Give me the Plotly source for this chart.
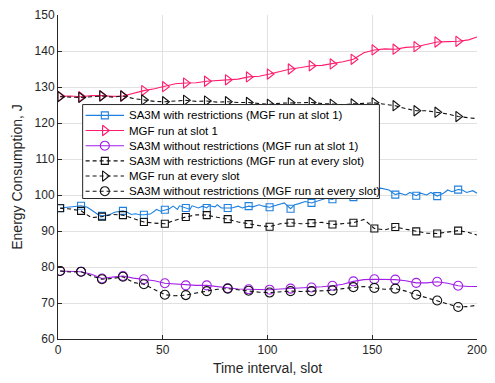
import plotly.graph_objects as go

# ---------------------------------------------------------------- data
# Energy consumption (J) per time slot for the six schemes.
wr1_slot = [1, 4, 8, 11, 14, 17, 19, 21, 24, 27, 31, 33, 35, 37, 39, 41, 44, 46, 47, 49,
            51, 53, 55, 57, 58, 61, 63, 64, 67, 69, 71, 72, 75, 76, 78, 81, 83, 86, 88, 91,
            93, 96, 98, 101, 103, 105, 108, 111, 113, 115, 118, 121, 123, 126, 128, 131, 133,
            136, 139, 141, 144, 147, 151, 154, 158, 161, 163, 166, 168, 171, 173, 176, 178,
            181, 184, 186, 188, 191, 193, 195, 198, 200]
wr1_energy = [96.4, 96.5, 96.8, 97.0, 96.6, 95.4, 94.6, 94.2, 94.4, 95.2, 95.6, 95.2, 94.6,
              94.8, 94.5, 94.5, 94.7, 95.5, 96.0, 95.5, 95.9, 96.1, 96.9, 96.0, 97.0, 96.4,
              96.0, 97.0, 96.4, 96.9, 96.4, 97.0, 96.7, 97.3, 96.4, 96.4, 96.4, 96.9, 96.4,
              96.9, 96.7, 97.3, 96.9, 96.6, 96.9, 97.3, 97.8, 96.2, 97.3, 97.6, 98.2, 97.8,
              98.2, 98.7, 99.1, 98.8, 99.6, 99.1, 99.6, 99.4, 99.9, 100.4, 100.9, 101.9,
              101.4, 100.1, 100.5, 100.0, 100.7, 99.8, 100.5, 100.0, 100.7, 99.7, 100.5,
              101.4, 100.9, 101.5, 101.4, 100.7, 101.2, 100.5]

mgf1_slot = [1, 6, 11, 16, 21, 26, 31, 36, 41, 46, 51, 56, 61, 66, 71, 76, 81, 86, 91, 96,
             101, 106, 111, 116, 121, 126, 131, 136, 141, 146, 151, 156, 161, 166, 171, 176,
             181, 186, 191, 196, 200]
mgf1_energy = [127.4, 127.5, 127.3, 127.6, 127.6, 127.4, 127.5, 128.3, 129.0, 129.5, 130.1,
               130.9, 131.1, 131.2, 131.6, 131.8, 132.0, 132.2, 132.8, 133.0, 133.6, 134.4,
               135.0, 135.4, 135.9, 136.0, 136.4, 137.0, 137.7, 139.5, 140.3, 140.6, 140.5,
               141.0, 141.2, 141.8, 142.5, 142.6, 142.7, 143.1, 143.9]

wo1_slot = mgf1_slot
wo1_energy = [78.9, 78.7, 78.7, 78.0, 76.8, 77.2, 77.5, 76.9, 76.6, 76.2, 75.5, 75.3, 74.9,
              74.9, 74.9, 74.5, 74.1, 73.9, 73.8, 73.7, 73.7, 73.9, 74.0, 74.1, 74.3, 74.5,
              74.8, 75.2, 76.0, 76.5, 76.6, 76.6, 76.5, 76.2, 75.6, 75.6, 75.9, 75.5, 74.8,
              74.6, 74.6]

wr_all_slot = mgf1_slot
wr_all_energy = [96.3, 96.1, 95.6, 93.7, 94.0, 94.6, 94.4, 93.5, 92.5, 92.2, 92.0, 93.0,
                 93.9, 94.5, 94.4, 93.8, 93.3, 92.5, 91.9, 91.5, 91.2, 92.0, 92.3, 92.0,
                 92.2, 92.4, 91.8, 92.0, 92.3, 93.2, 90.7, 90.3, 91.1, 90.5, 89.9, 89.4,
                 89.3, 89.8, 90.1, 89.6, 88.9]

mgf_all_slot = mgf1_slot
mgf_all_energy = [127.3, 127.2, 127.1, 127.3, 127.5, 127.2, 127.5, 126.8, 126.4, 126.0,
                  125.9, 126.2, 126.3, 126.0, 126.1, 125.8, 125.9, 125.7, 125.7, 125.4,
                  125.2, 125.5, 125.6, 125.8, 125.7, 125.4, 125.2, 125.1, 125.3, 125.5,
                  125.6, 125.2, 124.8, 124.0, 123.4, 123.4, 123.0, 122.5, 121.8, 121.5,
                  121.2]

wo_all_slot = mgf1_slot
wo_all_energy = [78.9, 78.6, 78.7, 77.5, 76.6, 76.8, 77.3, 75.7, 75.2, 73.8, 72.3, 72.0,
                 72.2, 72.8, 73.3, 73.8, 74.0, 73.6, 73.4, 73.0, 72.9, 73.1, 73.3, 73.2,
                 73.3, 73.4, 73.5, 74.0, 74.4, 74.6, 74.2, 73.8, 74.0, 73.3, 72.3, 71.5,
                 70.7, 69.8, 68.9, 69.0, 69.4]

# slots carrying a marker
marker_slots = list(range(1, 200, 10))

series_names = [
    "SA3M with restrictions (MGF run at slot 1)",
    "MGF run at slot 1",
    "SA3M without restrictions (MGF run at slot 1)",
    "SA3M with restrictions (MGF run at every slot)",
    "MGF run at every slot",
    "SA3M without restrictions (MGF run at every slot)",
]

x_ticks = [0, 50, 100, 150, 200]
y_ticks = [60, 70, 80, 90, 100, 110, 120, 130, 140, 150]

# ---------------------------------------------------------------- styles
BLUE, PINK, PURPLE, BLACK = "#1f80e0", "#ff1c6c", "#a21fe6", "#111111"
INK = "#262626"
FONT = "Liberation Sans, Arial, Helvetica, sans-serif"
DASH = "4px,3px"

styles = [
    dict(color=BLUE, dash="solid", symbol="square-open", size=7),
    dict(color=PINK, dash="solid", symbol="triangle-right-open", size=9),
    dict(color=PURPLE, dash="solid", symbol="circle-open", size=9),
    dict(color=BLACK, dash=DASH, symbol="square-open", size=7),
    dict(color=BLACK, dash=DASH, symbol="triangle-right-open", size=9),
    dict(color=BLACK, dash=DASH, symbol="circle-open", size=9),
]
data = [
    (wr1_slot, wr1_energy),
    (mgf1_slot, mgf1_energy),
    (wo1_slot, wo1_energy),
    (wr_all_slot, wr_all_energy),
    (mgf_all_slot, mgf_all_energy),
    (wo_all_slot, wo_all_energy),
]

fig = go.Figure()

for name, st, (xs, ys) in zip(series_names, styles, data):
    fig.add_trace(go.Scatter(
        x=xs, y=ys, mode="lines", name=name, showlegend=False,
        line=dict(color=st["color"], width=1.1, dash=st["dash"]),
        hoverinfo="skip",
    ))
    mx = [s for s in xs if s in marker_slots]
    my = [v for s, v in zip(xs, ys) if s in marker_slots]
    fig.add_trace(go.Scatter(
        x=mx, y=my, mode="markers", name=name, showlegend=False,
        marker=dict(symbol=st["symbol"], size=st["size"], color=st["color"],
                    line=dict(width=1.1, color=st["color"])),
    ))

# ---------------------------------------------------------------- legend
# Drawn on an overlay axis in plot-area fractions so the rows can be packed
# tighter than the built-in legend allows.
W, H = 495, 383
L, R, T, B = 58, 12, 8, 44
PW, PH = W - L - R, H - T - B


def fx(px):
    return (px - L) / PW


def fy(py):
    return (H - B - py) / PH


box_l, box_r, box_t, box_b = fx(83), fx(384), fy(99.5), fy(195.5)
fig.add_trace(go.Scatter(
    x=[box_l, box_r, box_r, box_l, box_l], y=[box_t, box_t, box_b, box_b, box_t],
    xaxis="x2", yaxis="y2", mode="lines", fill="toself", fillcolor="white",
    line=dict(color=INK, width=1), showlegend=False, hoverinfo="skip",
))

row_py = [110.5, 126, 141.5, 157, 172.5, 188]
for name, st, py in zip(series_names, styles, row_py):
    yy = fy(py)
    fig.add_trace(go.Scatter(
        x=[fx(86), fx(125)], y=[yy, yy], xaxis="x2", yaxis="y2", mode="lines",
        line=dict(color=st["color"], width=1.1, dash=st["dash"]),
        showlegend=False, hoverinfo="skip",
    ))
    fig.add_trace(go.Scatter(
        x=[fx(105.5)], y=[yy], xaxis="x2", yaxis="y2", mode="markers",
        marker=dict(symbol=st["symbol"], size=st["size"], color=st["color"],
                    line=dict(width=1.1, color=st["color"])),
        showlegend=False, hoverinfo="skip",
    ))
    fig.add_annotation(
        x=fx(127.5), y=yy, xref="paper", yref="paper", xanchor="left", yanchor="middle",
        text=name, showarrow=False, font=dict(family=FONT, size=11.5, color="#000000"),
    )

# ---------------------------------------------------------------- layout
axis_common = dict(
    showgrid=True, gridcolor="#e1e1e1", gridwidth=1,
    showline=True, linecolor=INK, linewidth=1, mirror=False,
    ticks="inside", ticklen=4, tickcolor=INK, tickwidth=1,
    tickfont=dict(family=FONT, size=12, color=INK),
    zeroline=False,
)

fig.update_layout(
    width=W, height=H,
    margin=dict(l=L, r=R, t=T, b=B),
    paper_bgcolor="white", plot_bgcolor="white",
    font=dict(family=FONT, color=INK),
    showlegend=False,
    xaxis=dict(range=[0, 200], tickvals=x_ticks, **axis_common,
               title=dict(text="Time interval, slot", standoff=6,
                          font=dict(family=FONT, size=14, color=INK))),
    yaxis=dict(range=[60, 150], tickvals=y_ticks, **axis_common,
               title=dict(text="Energy Consumption, J", standoff=8,
                          font=dict(family=FONT, size=14, color=INK))),
    xaxis2=dict(overlaying="x", range=[0, 1], visible=False, fixedrange=True),
    yaxis2=dict(overlaying="y", range=[0, 1], visible=False, fixedrange=True),
)

fig.write_html("out.html")
